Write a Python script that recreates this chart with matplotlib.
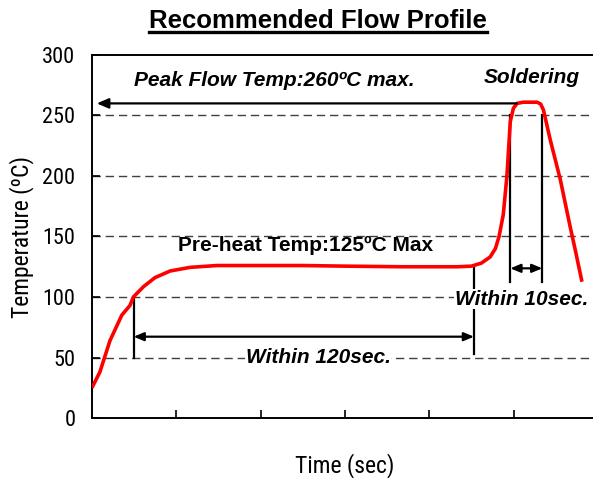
import matplotlib
matplotlib.use("Agg")
import matplotlib.pyplot as plt
from matplotlib import font_manager
from matplotlib.lines import Line2D

# reflow profile (time in sec, temperature in degC)
time_s = [0, 2.8, 6.4, 10.6, 13.5, 14.7, 18.3, 22.4, 27.8, 34.9, 44.4, 60, 75,
          90, 110, 130, 135, 138.5, 141.6, 143.5, 144.8, 146.3, 147.6, 148.8,
          149.9, 151.2, 153.4, 158.3, 159.6, 160.6, 163, 166.6, 170.1, 171.9, 174.3]
temp_c = [25, 38, 64, 85, 93, 100, 108.5, 116, 121.5, 124.5, 126, 126, 126,
          125.5, 125, 125, 125.5, 128, 133, 140, 150, 168, 200, 245,
          256, 260, 261, 261, 259.5, 254.5, 230, 197, 158, 139, 112.6]

y_ticks = [0, 50, 100, 150, 200, 250, 300]
x_ticks = [30, 60, 90, 120, 150]

peak_temp = 260
preheat_start, preheat_end = 14.8, 135.9
solder_start, solder_end = 148.8, 160.2

names = {f.name for f in font_manager.fontManager.ttflist}
narrow = next((n for n in ["Roboto Condensed", "PT Sans Narrow", "Archivo Narrow"] if n in names),
              "Liberation Sans")
sans = "Liberation Sans"

fig = plt.figure(figsize=(5.93, 4.78), dpi=100)
ax = fig.add_axes([92 / 593, 60 / 478, 506 / 593, 363 / 478])

ax.plot(time_s, temp_c, color="red", lw=2.6, solid_capstyle="butt",
        solid_joinstyle="round", zorder=3)

ax.set_xlim(0, 180)
ax.set_ylim(0, 300)
ax.set_yticks(y_ticks)
ax.set_xticks(x_ticks)
ax.set_xticklabels([])
ax.tick_params(direction="in", length=6, width=1.2, color="black")
ax.tick_params(axis="y", pad=12, labelsize=16)
for lab in ax.get_yticklabels():
    lab.set_family(narrow)
for s in ["left", "bottom", "top"]:
    ax.spines[s].set_linewidth(1.4)
ax.spines["right"].set_visible(False)

for y in y_ticks[1:-1]:
    ax.axhline(y, color="#404040", lw=1, dashes=(6, 3.5), zorder=1)

ax.set_xlabel("Time (sec)", family=narrow, fontsize=17, labelpad=22)
ax.set_ylabel("Temperature (\u00baC)", family=narrow, fontsize=17, labelpad=6)

arrow = dict(arrowstyle="-|>,head_length=0.7,head_width=0.3", color="black", lw=1.6,
             shrinkA=0, shrinkB=0)
arrow2 = dict(arrowstyle="<|-|>,head_length=0.6,head_width=0.25", color="black", lw=1.6,
              shrinkA=0, shrinkB=0)

# peak temperature arrow
ax.annotate("", xy=(1.7, peak_temp), xytext=(151.1, peak_temp), arrowprops=arrow)
ax.text(64.8, 279, "Peak Flow Temp:260\u00baC max.", family=sans, weight="bold",
        style="italic", fontsize=15, ha="center", va="center")
ax.text(156.6, 281.5, "Soldering", family=sans, weight="bold", style="italic",
        fontsize=15, ha="center", va="center")

# soldering window
for x in [solder_start, solder_end]:
    ax.plot([x, x], [250, 112], color="black", lw=1.6, zorder=2)
ax.annotate("", xy=(solder_start, 123.7), xytext=(solder_end, 123.7), arrowprops=arrow2)

# pre-heat window
ax.plot([preheat_start, preheat_start], [100, 50], color="black", lw=1.6, zorder=2)
ax.plot([preheat_end, preheat_end], [123.7, 52.6], color="black", lw=1.6, zorder=2)
ax.annotate("", xy=(preheat_start, 67.2), xytext=(preheat_end, 67.2), arrowprops=arrow2)

ax.text(152.7, 98.3, "Within 10sec.", family=sans, weight="bold", style="italic",
        fontsize=15, ha="center", va="center", zorder=4,
        bbox=dict(facecolor="white", edgecolor="none", pad=0.5))
ax.text(80.4, 49.6, "Within 120sec.", family=sans, weight="bold", style="italic",
        fontsize=15, ha="center", va="center", zorder=4,
        bbox=dict(facecolor="white", edgecolor="none", pad=0.5))
ax.text(75.8, 143, "Pre-heat Temp:125\u00baC Max", family=sans, weight="bold",
        fontsize=15, ha="center", va="center", zorder=4)

title = fig.text(318 / 593, 1 - 28 / 478, "Recommended Flow Profile", family=sans,
                 weight="bold", fontsize=18.5, ha="center", va="baseline")
fig.canvas.draw()
bb = title.get_window_extent()
uy = 1 - 32 / 478
fig.add_artist(Line2D([bb.x0 / 593, bb.x1 / 593], [uy, uy], color="black", lw=2.4,
                      transform=fig.transFigure))

fig.savefig("out.png", dpi=100)
